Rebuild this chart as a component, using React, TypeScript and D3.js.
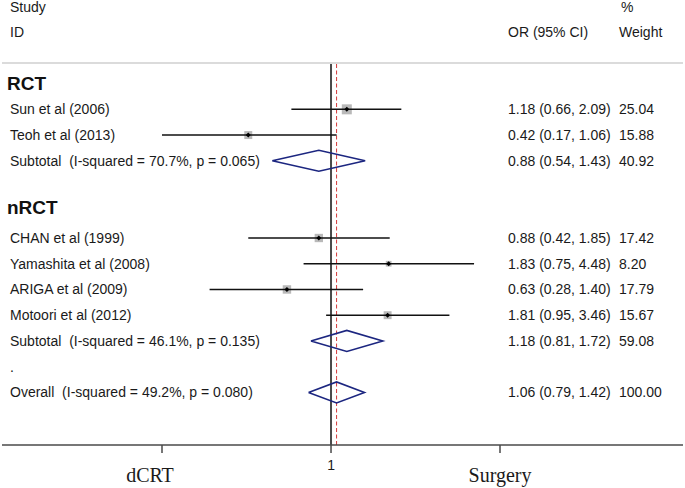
import * as d3 from 'd3';

const groupNames = ['RCT', 'nRCT'];
const studyNames = [
  'Sun et al (2006)',
  'Teoh et al (2013)',
  'CHAN et al (1999)',
  'Yamashita et al (2008)',
  'ARIGA et al (2009)',
  'Motoori et al (2012)',
];
const studyGroup = [0, 0, 1, 1, 1, 1];
const studyOR = [1.18, 0.42, 0.88, 1.83, 0.63, 1.81];
const studyLow = [0.66, 0.17, 0.42, 0.75, 0.28, 0.95];
const studyHigh = [2.09, 1.06, 1.85, 4.48, 1.4, 3.46];
const studyWeight = [25.04, 15.88, 17.42, 8.2, 17.79, 15.67];

const subtotalLabels = [
  'Subtotal  (I-squared = 70.7%, p = 0.065)',
  'Subtotal  (I-squared = 46.1%, p = 0.135)',
];
const subtotalOR = [0.88, 1.18];
const subtotalLow = [0.54, 0.81];
const subtotalHigh = [1.43, 1.72];
const subtotalWeight = [40.92, 59.08];

const overallLabel = 'Overall  (I-squared = 49.2%, p = 0.080)';
const overallOR = 1.06;
const overallLow = 0.79;
const overallHigh = 1.42;
const overallWeight = 100.0;

const axisTicks = [0.17, 1, 5.88];
const tickLabels = ['', '1', ''];
const sideLabels = ['dCRT', 'Surgery'];

const W = 685;
const H = 488;
const SANS = '"Liberation Sans", Arial, sans-serif';
const SERIF = '"Liberation Serif", "Times New Roman", serif';
const NAVY = '#1c2680';
const TEXT = '#1a1a1a';

type Row =
  | { kind: 'group'; idx: number; label: string }
  | { kind: 'study'; idx: number; s: number }
  | { kind: 'pooled'; idx: number; label: string; or: number; lo: number; hi: number; w: number }
  | { kind: 'dot'; idx: number };

const buildRows = (): Row[] => {
  const rows: Row[] = [];
  let idx = 0;
  groupNames.forEach((g, gi) => {
    rows.push({ kind: 'group', idx, label: g });
    idx++;
    studyGroup.forEach((sg, s) => {
      if (sg !== gi) return;
      rows.push({ kind: 'study', idx, s });
      idx++;
    });
    rows.push({
      kind: 'pooled',
      idx,
      label: subtotalLabels[gi],
      or: subtotalOR[gi],
      lo: subtotalLow[gi],
      hi: subtotalHigh[gi],
      w: subtotalWeight[gi],
    });
    idx += 2;
  });
  idx--;
  rows.push({ kind: 'dot', idx });
  idx++;
  rows.push({
    kind: 'pooled',
    idx,
    label: overallLabel,
    or: overallOR,
    lo: overallLow,
    hi: overallHigh,
    w: overallWeight,
  });
  return rows;
};

const ciText = (or: number, lo: number, hi: number) =>
  `${or.toFixed(2)} (${lo.toFixed(2)}, ${hi.toFixed(2)})`;

const App = () => {
  const rows = buildRows();
  const x = d3.scaleLog().domain([axisTicks[0], axisTicks[2]]).range([162, 500]);
  const y = d3.scaleLinear().domain([0, 12]).range([83.6, 392.4]);

  const lineTop = 64;
  const axisY = 445;
  const colOR = 508;
  const colW = 619;

  const diamond = (or: number, lo: number, hi: number, cy: number, h: number) =>
    d3.line()([
      [x(lo), cy],
      [x(or), cy - h],
      [x(hi), cy],
      [x(or), cy + h],
      [x(lo), cy],
    ]) as string;

  return (
    <div style={{ position: 'absolute', left: 0, top: 0 }}>
      <svg width={W} height={H} style={{ display: 'block', background: '#fff' }}>
        {/* headers */}
        <g fontFamily={SANS} fontSize={14} fill={TEXT}>
          <text x={10} y={7} dy="0.35em">Study</text>
          <text x={10} y={32} dy="0.35em">ID</text>
          <text x={colOR} y={32} dy="0.35em">OR (95% CI)</text>
          <text x={colW + 2} y={7} dy="0.35em">%</text>
          <text x={colW} y={32} dy="0.35em">Weight</text>
        </g>
        <line x1={2} x2={683} y1={63} y2={63} stroke="#cfcfcf" strokeWidth={1.5} />

        {/* reference lines */}
        <line x1={x(1)} x2={x(1)} y1={lineTop} y2={axisY} stroke="#4a4a4a" strokeWidth={2} />
        <line
          x1={x(overallOR)}
          x2={x(overallOR)}
          y1={lineTop}
          y2={axisY}
          stroke="#d43a3a"
          strokeWidth={1}
          strokeDasharray="4,2.5"
        />

        {rows.map((r, i) => {
          const cy = y(r.idx);
          if (r.kind === 'group') {
            return (
              <text
                key={i}
                x={7}
                y={cy - (r.idx > 0 ? 5 : 0)}
                dy="0.35em"
                fontFamily={SANS}
                fontSize={19}
                fontWeight="bold"
                fill="#111"
              >
                {r.label}
              </text>
            );
          }
          if (r.kind === 'dot') {
            return (
              <text key={i} x={10} y={cy} dy="0.35em" fontFamily={SANS} fontSize={14} fill={TEXT}>
                .
              </text>
            );
          }
          if (r.kind === 'study') {
            const s = r.s;
            const side = 2 * Math.sqrt(studyWeight[s]);
            const px = x(studyOR[s]);
            return (
              <g key={i}>
                <text x={10} y={cy} dy="0.35em" fontFamily={SANS} fontSize={14} fill={TEXT}>
                  {studyNames[s]}
                </text>
                <rect x={px - side / 2} y={cy - side / 2} width={side} height={side} fill="#b9b9b9" />
                <line x1={x(studyLow[s])} x2={x(studyHigh[s])} y1={cy} y2={cy} stroke="#111" strokeWidth={1.5} />
                <path
                  d={`M${px - 2.5},${cy}L${px},${cy - 2.5}L${px + 2.5},${cy}L${px},${cy + 2.5}Z`}
                  fill="#000"
                />
                <text x={colOR} y={cy} dy="0.35em" fontFamily={SANS} fontSize={14} fill={TEXT}>
                  {ciText(studyOR[s], studyLow[s], studyHigh[s])}
                </text>
                <text x={colW} y={cy} dy="0.35em" fontFamily={SANS} fontSize={14} fill={TEXT}>
                  {studyWeight[s].toFixed(2)}
                </text>
              </g>
            );
          }
          return (
            <g key={i}>
              <text
                x={10}
                y={cy}
                dy="0.35em"
                fontFamily={SANS}
                fontSize={14}
                fill={TEXT}
                style={{ whiteSpace: 'pre' }}
              >
                {r.label}
              </text>
              <path d={diamond(r.or, r.lo, r.hi, cy, 10.5)} fill="none" stroke={NAVY} strokeWidth={1.6} />
              <text x={colOR} y={cy} dy="0.35em" fontFamily={SANS} fontSize={14} fill={TEXT}>
                {ciText(r.or, r.lo, r.hi)}
              </text>
              <text x={colW} y={cy} dy="0.35em" fontFamily={SANS} fontSize={14} fill={TEXT}>
                {r.w.toFixed(2)}
              </text>
            </g>
          );
        })}

        {/* x axis */}
        <line x1={2} x2={683} y1={axisY} y2={axisY} stroke="#4a4a4a" strokeWidth={1.5} />
        {axisTicks.map((t, i) => (
          <g key={t} transform={`translate(${x(t)},${axisY})`}>
            <line y1={0} y2={8} stroke="#4a4a4a" strokeWidth={1.5} />
            <text y={20} dy="0.35em" textAnchor="middle" fontFamily={SANS} fontSize={14} fill={TEXT}>
              {tickLabels[i]}
            </text>
          </g>
        ))}
        <text x={x(axisTicks[0]) - 12} y={475} dy="0.35em" textAnchor="middle" fontFamily={SERIF} fontSize={20} fill={TEXT}>
          {sideLabels[0]}
        </text>
        <text x={x(axisTicks[2])} y={475} dy="0.35em" textAnchor="middle" fontFamily={SERIF} fontSize={20} fill={TEXT}>
          {sideLabels[1]}
        </text>
      </svg>
    </div>
  );
};

export default App;
